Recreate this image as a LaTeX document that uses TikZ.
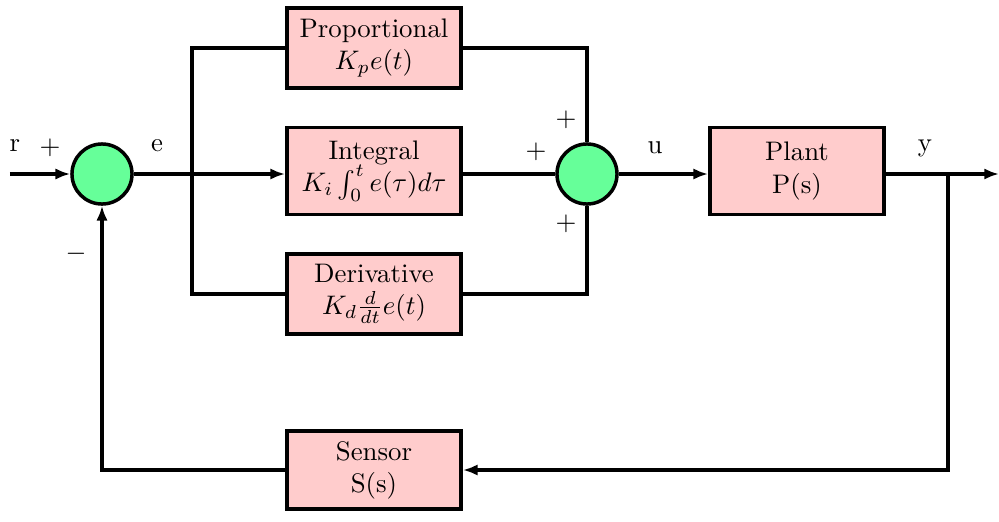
\documentclass[tikz,border=0pt]{standalone}
\usetikzlibrary{arrows.meta}
\definecolor{boxpink}{RGB}{255,204,204}
\definecolor{sumgreen}{RGB}{102,255,153}
\begin{document}
\begin{tikzpicture}[x=0.373pt,y=-0.373pt,
  blk/.style={draw,line width=1.3pt,fill=boxpink,minimum width=65pt,minimum height=30pt,align=center,inner sep=2pt},
  sumnode/.style={draw,circle,line width=1.3pt,fill=sumgreen,minimum size=22.4pt,inner sep=0pt},
  wire/.style={line width=1.2pt},
  arr/.style={wire,-{Latex[length=5.5pt,width=4.2pt]}},
  lbl/.style={inner sep=0pt}]
\useasboundingbox (0,0) rectangle (999,521);
\node[sumnode] (s1) at (102,174) {};
\node[sumnode] (s2) at (587,174) {};
\node[blk] (P) at (374,48) {Proportional\\$K_p e(t)$};
\node[blk,minimum height=32.4pt] (I) at (374,171) {Integral\\$K_i\int_0^t e(\tau)d\tau$};
\node[blk] (D) at (374,294) {Derivative\\$K_d\frac{d}{dt}e(t)$};
\node[blk,minimum height=32.4pt] (G) at (797,171) {Plant\\P(s)};
\node[blk,minimum height=29pt] (S) at (374,470) {Sensor\\S(s)};
\coordinate (in) at (10,174);
\coordinate (br) at (192,174);
\coordinate (ob) at (948,174);
\coordinate (out) at (999,174);
% input
\draw[arr] (in) -- (s1);
% error branches
\draw[wire] (s1) -- (br);
\draw[arr] (br) -- (I.west |- br);
\draw[wire] (br) |- (P.west);
\draw[wire] (br) |- (D.west);
% to second summer
\draw[wire] (P.east) -| (s2.north);
\draw[wire] (I.east |- s2) -- (s2);
\draw[wire] (D.east) -| (s2.south);
% to plant and output
\draw[arr] (s2) -- (G.west |- s2);
\draw[arr] (G.east |- ob) -- (out);
% feedback
\draw[arr] (ob) |- (S.east);
\draw[arr] (S.west) -| (s1.south);
% labels
\node[lbl] (lr) at (15,146) {r};
\node[lbl] (lp1) at (50,148) {$+$};
\node[lbl] (lm1) at (76,254) {$-$};
\node[lbl] (le) at (157,146) {e};
\node[lbl] (lp2) at (566,120) {$+$};
\node[lbl] (lp3) at (536,152) {$+$};
\node[lbl] (lp4) at (566,224) {$+$};
\node[lbl] (lu) at (655,148) {u};
\node[lbl] (ly) at (925,148) {y};
\end{tikzpicture}
\end{document}
